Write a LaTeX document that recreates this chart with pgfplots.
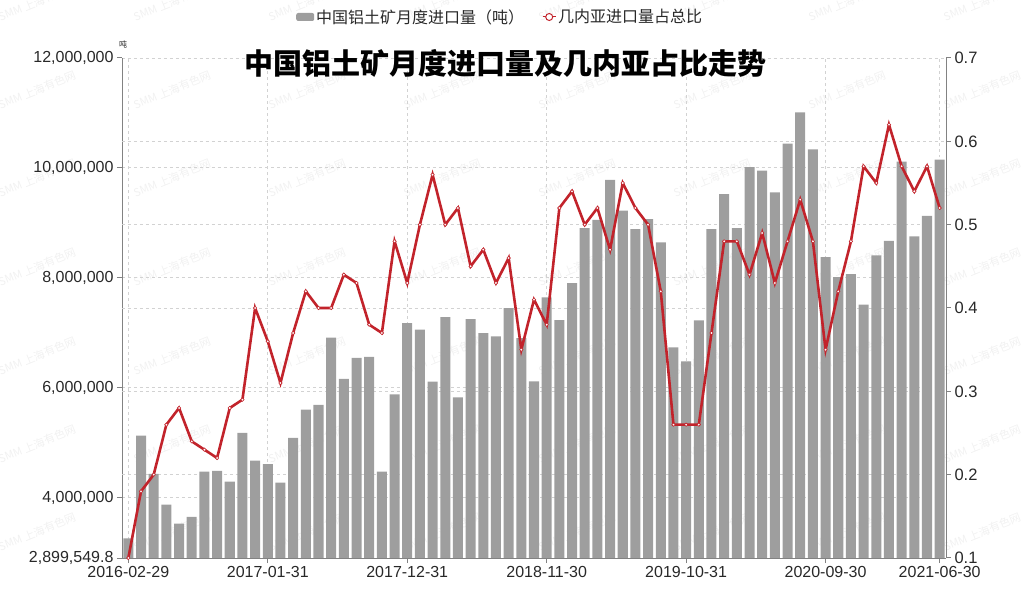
\documentclass[border=0pt]{standalone}
\usepackage{pgfplots}
\pgfplotsset{compat=1.18}
\usepackage{pgfplotstable}
\usepackage{fontspec}
\setmainfont{Liberation Sans}
\newfontfamily\cjk{Noto Sans CJK SC}

\definecolor{bargray}{RGB}{158,158,158}
\definecolor{linered}{RGB}{194,35,43}
\definecolor{axisgray}{RGB}{130,130,130}
\definecolor{gridgray}{RGB}{210,210,210}
\definecolor{txt}{RGB}{40,40,40}

% month index, import volume (t), Guinea share
\pgfplotstableread{
x vol share
0 3255000 0.10
1 5127000 0.18
2 4430000 0.20
3 3873000 0.26
4 3527000 0.28
5 3649000 0.24
6 4473000 0.23
7 4485000 0.22
8 4291000 0.28
9 5176000 0.29
10 4673000 0.40
11 4606000 0.36
12 4273000 0.31
13 5085000 0.37
14 5600000 0.42
15 5685000 0.40
16 6909000 0.40
17 6158000 0.44
18 6540000 0.43
19 6558000 0.38
20 4473000 0.37
21 5879000 0.48
22 7176000 0.43
23 7055000 0.50
24 6109000 0.56
25 7285000 0.50
26 5824000 0.52
27 7249000 0.45
28 6994000 0.47
29 6933000 0.43
30 7449000 0.46
31 6903000 0.35
32 6115000 0.41
33 7642000 0.38
34 7230000 0.52
35 7903000 0.54
36 8903000 0.50
37 9055000 0.52
38 9782000 0.47
39 9224000 0.55
40 8885000 0.52
41 9067000 0.50
42 8642000 0.42
43 6733000 0.26
44 6479000 0.26
45 7224000 0.26
46 8885000 0.37
47 9521000 0.48
48 8903000 0.48
49 10012000 0.44
50 9952000 0.49
51 9552000 0.43
52 10442000 0.48
53 11012000 0.53
54 10339000 0.48
55 8376000 0.35
56 8012000 0.42
57 8067000 0.48
58 7509000 0.57
59 8406000 0.55
60 8673000 0.62
61 10115000 0.57
62 8752000 0.54
63 9127000 0.57
64 10152000 0.52
}\data

\begin{document}
\begin{tikzpicture}
\path[use as bounding box] (0bp,0bp) rectangle (1024bp,602bp);

% faint watermark
\foreach \cx in {37,172,307,442,577,712,847,982}
  \foreach \cy in {600,512,424,335,246,158,70}
    \node[rotate=22, text=gray!11, font=\cjk\fontsize{11bp}{13bp}\selectfont] at (\cx bp,\cy bp) {SMM 上海有色网};

\begin{axis}[
    at={(122bp,44bp)}, anchor=south west,
    scale only axis, width=824bp, height=500bp,
    xmin=-0.5, xmax=64.5,
    ymin=2899549.8, ymax=12000000,
    scaled y ticks=false,
    axis x line*=bottom, axis y line*=left,
    axis line style={draw=axisgray, line width=1bp, -},
    ybar, bar width=0.79,
    xtick={0,11,22,33,44,55,64},
    xticklabels={2016-02-29,2017-01-31,2017-12-31,2018-11-30,2019-10-31,2020-09-30,2021-06-30},
    ytick={2899549.8,4000000,6000000,8000000,10000000,12000000},
    yticklabels={{2,899,549.8},{4,000,000},{6,000,000},{8,000,000},{10,000,000},{12,000,000}},
    extra y ticks={4416291.5,5933033.2,7449774.9,8966516.6,10483258.3},
    extra y tick labels={},
    extra y tick style={major tick length=0pt, grid=major},
    tick align=outside, major tick length=5bp,
    tick style={draw=axisgray, line width=1bp},
    xmajorgrids, ymajorgrids,
    grid style={gridgray, dashed, line width=0.8bp},
    ticklabel style={font=\fontsize{16bp}{19bp}\selectfont, text=txt},
    legend columns=2,
    legend style={at={(0.459,1)}, anchor=center, yshift=41bp, draw=none, fill=none,
        font=\cjk\fontsize{16bp}{19bp}\selectfont, text=txt,
        /tikz/every even column/.append style={column sep=16bp}},
]
\addplot[fill=bargray, draw=none,
    legend image code/.code={\fill[bargray, rounded corners=2bp] (0bp,-4bp) rectangle (18bp,4bp);}]
    table[x=x, y=vol]{\data};
\addlegendentry{中国铝土矿月度进口量（吨）}
\addlegendimage{legend image code/.code={
    \draw[linered, line width=1bp] (0bp,0bp) -- (13bp,0bp);
    \draw[linered, fill=white, line width=1bp] (6.5bp,0bp) circle (3.5bp);}}
\addlegendentry{几内亚进口量占总比}
\end{axis}

\begin{axis}[
    at={(122bp,44bp)}, anchor=south west,
    scale only axis, width=824bp, height=500bp,
    xmin=-0.5, xmax=64.5, ymin=0.1, ymax=0.7,
    axis x line=none, axis y line*=right,
    axis line style={draw=axisgray, line width=1bp, -},
    ytick={0.1,0.2,0.3,0.4,0.5,0.6,0.7},
    yticklabels={0.1,0.2,0.3,0.4,0.5,0.6,0.7},
    tick align=outside, major tick length=5bp,
    tick style={draw=axisgray, line width=1bp},
    ticklabel style={font=\fontsize{16.5bp}{19bp}\selectfont, text=txt},
    clip=false,
]
\addplot[linered, line width=2.6bp, mark=*, mark size=1.7bp,
    mark options={fill=white, draw=linered, line width=0.6bp}]
    table[x=x, y=share]{\data};
\end{axis}

\node[font=\cjk\bfseries\fontsize{29bp}{31bp}\selectfont, text=black] at (505bp,539bp) {中国铝土矿月度进口量及几内亚占比走势};
\node[font=\cjk\fontsize{8bp}{9bp}\selectfont, text=txt] at (123bp,558bp) {吨};
\end{tikzpicture}
\end{document}
